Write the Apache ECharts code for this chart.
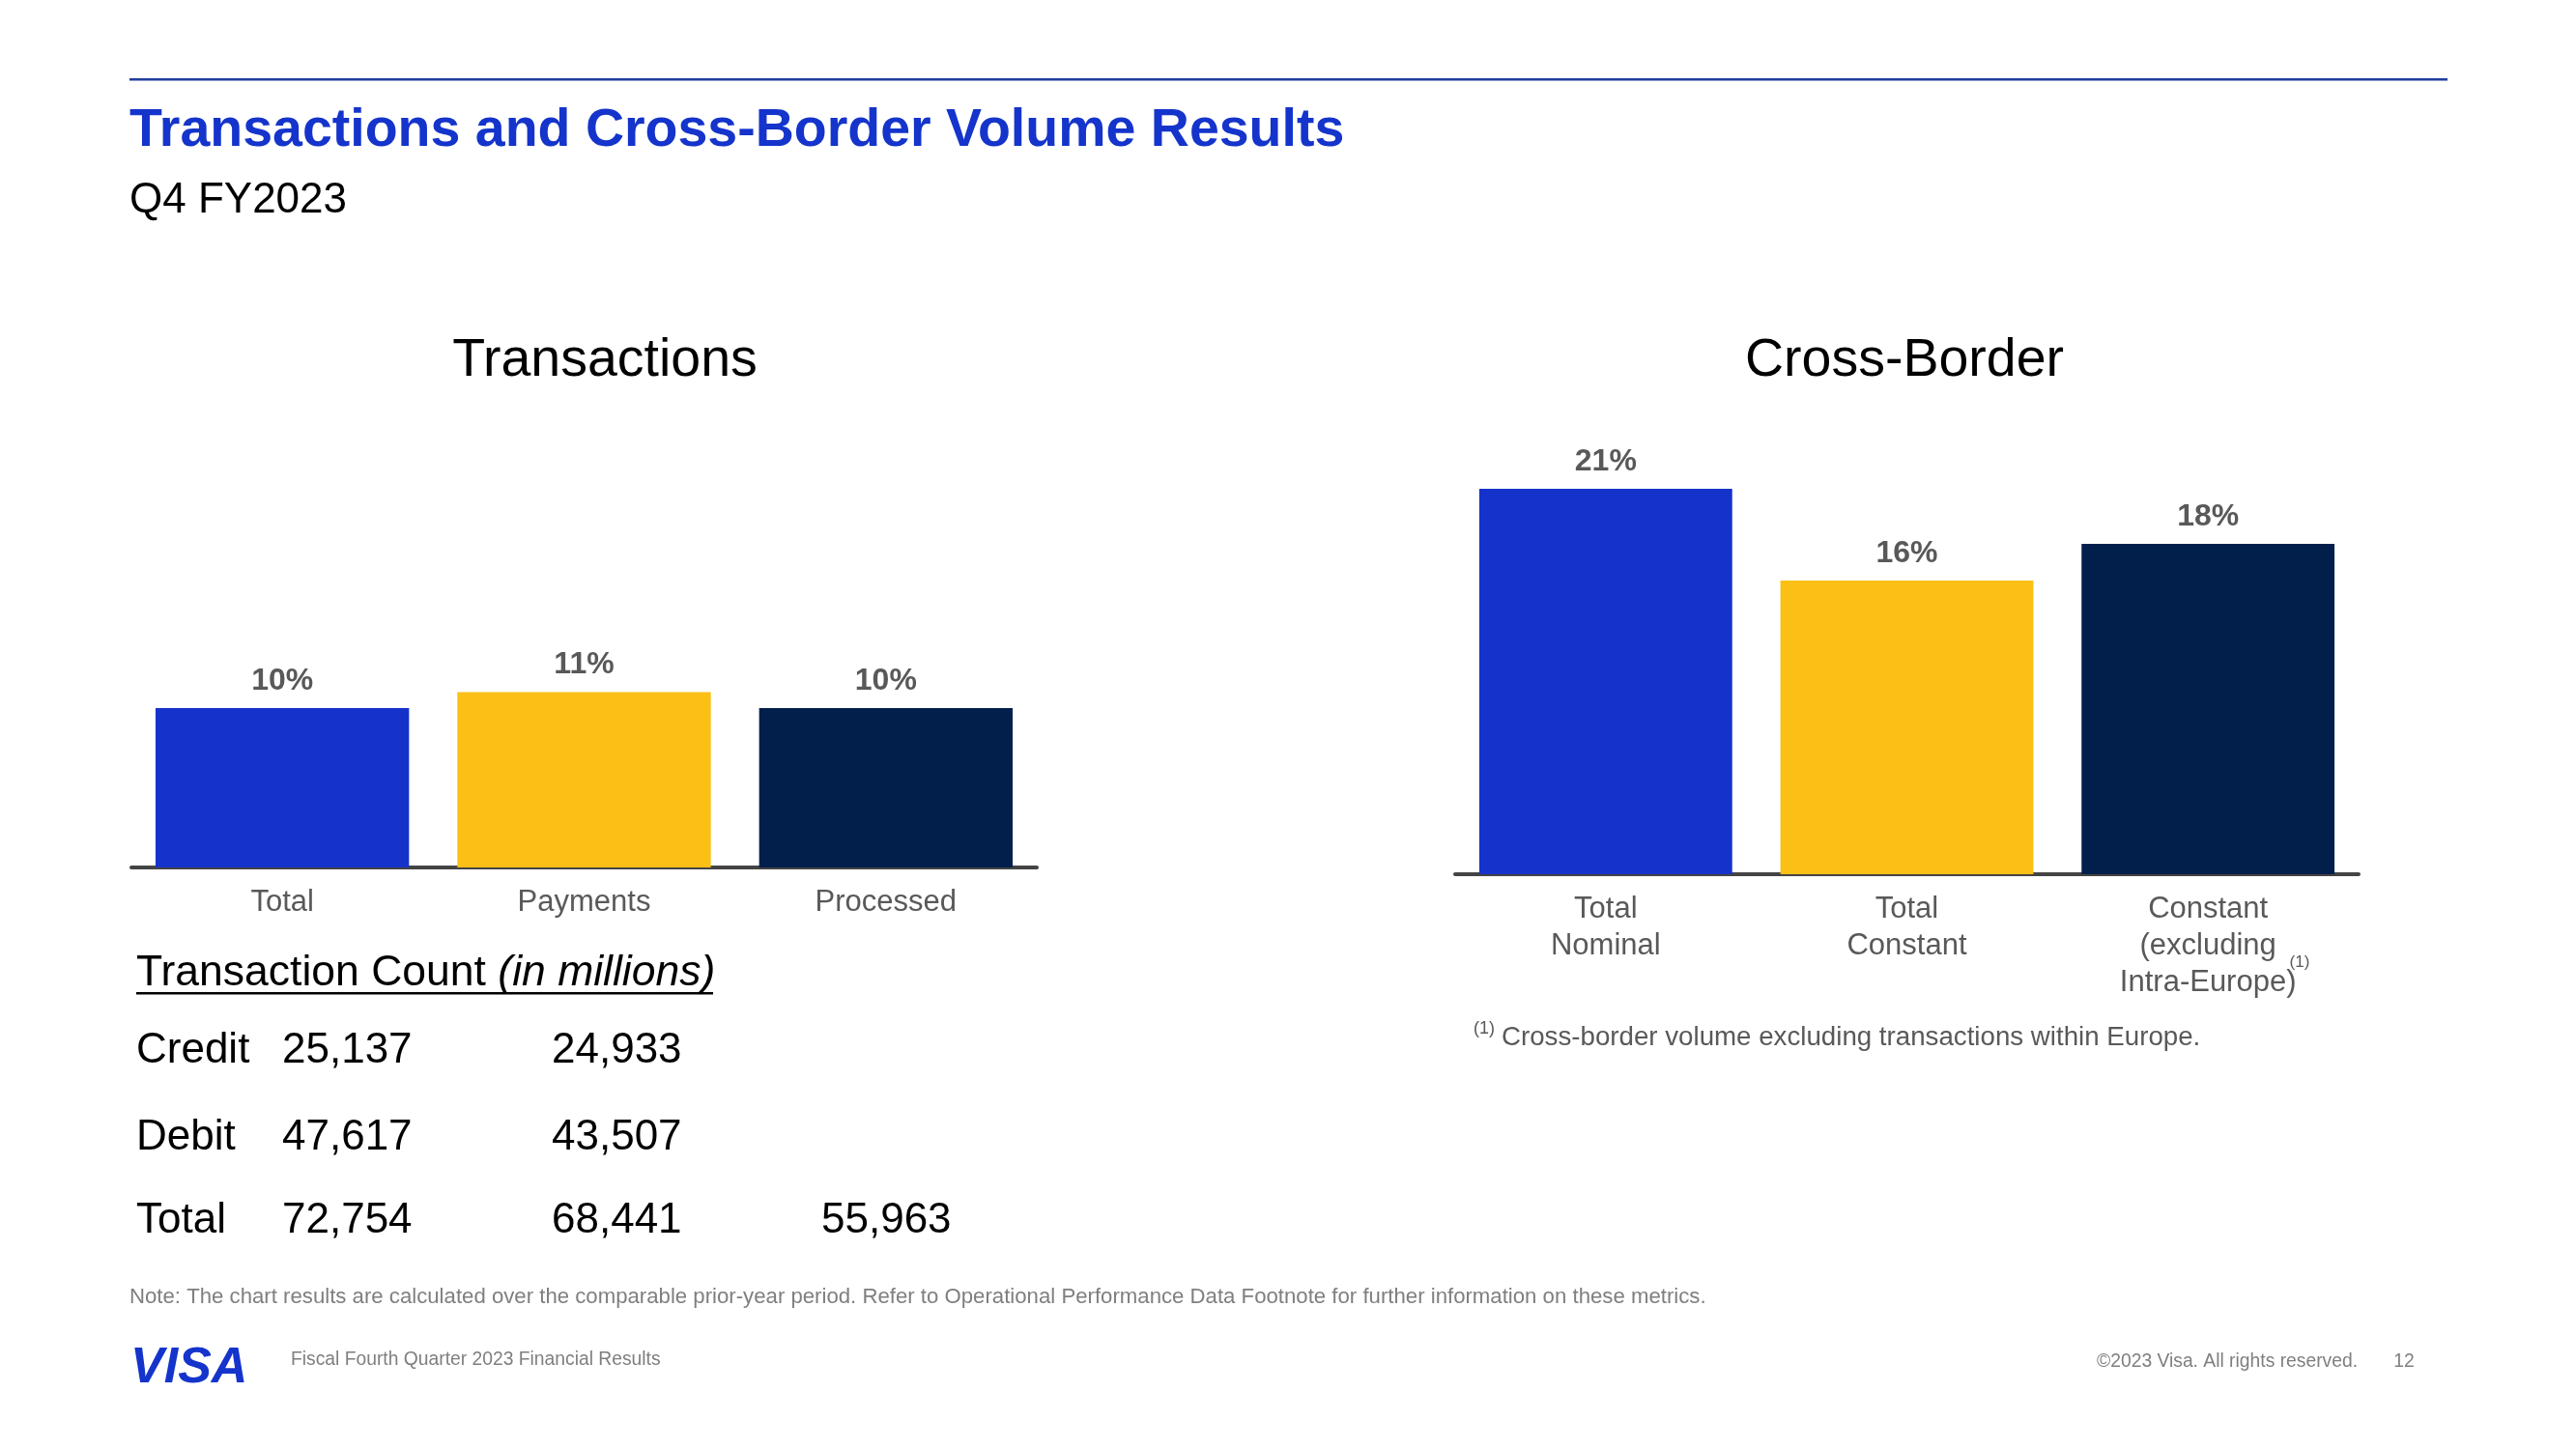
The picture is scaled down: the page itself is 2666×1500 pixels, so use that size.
<!DOCTYPE html>
<html>
<head>
<meta charset="utf-8">
<script src="https://cdn.jsdelivr.net/npm/echarts@6/dist/echarts.min.js"></script>
<style>
html,body{margin:0;padding:0;background:#fff;}
#chart{width:2666px;height:1500px;}
</style>
</head>
<body>
<div id="chart"></div>
<script>
// ---------- data ----------
var txCategories = ['Total', 'Payments', 'Processed'];
var txValues = [10, 11, 10];
var cbCategories = ['Total\nNominal', 'Total\nConstant', 'Constant\n(excluding\nIntra-Europe)'];
var cbValues = [21, 16, 18];
var barColors = ['#1533CB', '#FBBF15', '#021F4C'];
var tableRows = ['Credit', 'Debit', 'Total'];
var creditCounts = [25137, 24933, null];
var debitCounts = [47617, 43507, null];
var totalCounts = [72754, 68441, 55963];

// ---------- style constants ----------
var FONT = '"Liberation Sans", Arial, Helvetica, sans-serif';
var GRAY = '#595959';

function coloredData(vals) {
  return vals.map(function (v, i) { return { value: v, itemStyle: { color: barColors[i] } }; });
}
function fmt(n) { return n == null ? '' : n.toLocaleString('en-US'); }

var chart = echarts.init(document.getElementById('chart'), null, { renderer: 'canvas' });

var countsByRow = [creditCounts, debitCounts, totalCounts];
var rowY = [1088, 1178, 1264];
var colX = [292, 571, 850];
var graphics = [
  { type: 'rect', shape: { x: 134, y: 81, width: 2399, height: 2.5 }, style: { fill: '#233D9E' } },
  { type: 'text', x: 134, y: 136, style: { text: 'Transactions and Cross-Border Volume Results', font: 'bold 55.5px ' + FONT, fill: '#1434CB', verticalAlign: 'middle' } },
  { type: 'text', x: 134, y: 208, style: { text: 'Q4 FY2023', font: '44px ' + FONT, fill: '#000', verticalAlign: 'middle' } },
  { type: 'text', x: 626, y: 374, style: { text: 'Transactions', font: '55.5px ' + FONT, fill: '#000', align: 'center', verticalAlign: 'middle' } },
  { type: 'text', x: 1971, y: 374, style: { text: 'Cross-Border', font: '55.5px ' + FONT, fill: '#000', align: 'center', verticalAlign: 'middle' } },
  { type: 'text', x: 141, y: 1008, style: {
      text: '{a|Transaction Count }{b|(in millions)}', verticalAlign: 'middle',
      rich: { a: { fontSize: 44.5, fontFamily: FONT, color: '#000' }, b: { fontSize: 44.5, fontFamily: FONT, fontStyle: 'italic', color: '#000' } } } },
  { type: 'rect', shape: { x: 141, y: 1027, width: 597, height: 2.5 }, style: { fill: '#000' } },
  // superscript marker on the third cross-border category label
  { type: 'text', x: 2380, y: 996, style: { text: '(1)', font: '17px ' + FONT, fill: GRAY, align: 'center', verticalAlign: 'middle' } },
  { type: 'text', x: 1525, y: 1065, style: { text: '(1)', font: '18px ' + FONT, fill: GRAY, verticalAlign: 'middle' } },
  { type: 'text', x: 1554, y: 1074, style: { text: 'Cross-border volume excluding transactions within Europe.', font: '27.7px ' + FONT, fill: GRAY, verticalAlign: 'middle' } },
  { type: 'text', x: 134, y: 1343, style: { text: 'Note: The chart results are calculated over the comparable prior-year period. Refer to Operational Performance Data Footnote for further information on these metrics.', font: '22.2px ' + FONT, fill: '#7F7F7F', verticalAlign: 'middle' } },
  { type: 'text', x: 135, y: 1417, style: { text: 'VISA', font: 'italic 900 52px ' + FONT, fill: '#1434CB', verticalAlign: 'middle' } },
  { type: 'text', x: 301, y: 1408, style: { text: 'Fiscal Fourth Quarter 2023 Financial Results', font: '19.3px ' + FONT, fill: '#7F7F7F', verticalAlign: 'middle' } },
  { type: 'text', x: 2440, y: 1410, style: { text: '\u00A92023 Visa. All rights reserved.', font: '19.3px ' + FONT, fill: '#7F7F7F', align: 'right', verticalAlign: 'middle' } },
  { type: 'text', x: 2488, y: 1410, style: { text: '12', font: '19.3px ' + FONT, fill: '#7F7F7F', align: 'center', verticalAlign: 'middle' } }
];
tableRows.forEach(function (r, i) {
  graphics.push({ type: 'text', x: 141, y: rowY[i], style: { text: r, font: '44px ' + FONT, fill: '#000', verticalAlign: 'middle' } });
  countsByRow[i].forEach(function (v, j) {
    if (v == null) return;
    graphics.push({ type: 'text', x: colX[j], y: rowY[i], style: { text: fmt(v), font: '44px ' + FONT, fill: '#000', verticalAlign: 'middle' } });
  });
});

var option = {
  animation: false,
  backgroundColor: '#fff',
  textStyle: { fontFamily: FONT },
  grid: [
    { left: 136, right: 2666 - 1073, top: 403, bottom: 602, containLabel: false },
    { left: 1506, right: 2666 - 2441, top: 335, bottom: 595, containLabel: false }
  ],
  xAxis: [
    { type: 'category', gridIndex: 0, data: txCategories,
      axisTick: { show: false },
      axisLine: { lineStyle: { color: '#444', width: 4 } },
      axisLabel: { interval: 0, color: GRAY, fontSize: 31, lineHeight: 38, margin: 17, fontFamily: FONT } },
    { type: 'category', gridIndex: 1, data: cbCategories,
      axisTick: { show: false },
      axisLine: { lineStyle: { color: '#444', width: 4 } },
      axisLabel: { interval: 0, color: GRAY, fontSize: 31, lineHeight: 38, margin: 17, fontFamily: FONT } }
  ],
  yAxis: [
    { type: 'value', gridIndex: 0, min: 0, max: 30, show: false, splitLine: { show: false } },
    { type: 'value', gridIndex: 1, min: 0, max: 30, show: false, splitLine: { show: false } }
  ],
  series: [
    { type: 'bar', xAxisIndex: 0, yAxisIndex: 0, data: coloredData(txValues), barCategoryGap: '16%',
      label: { show: true, position: 'top', distance: 12, formatter: '{c}%', fontSize: 32, fontWeight: 'bold', color: GRAY, fontFamily: FONT } },
    { type: 'bar', xAxisIndex: 1, yAxisIndex: 1, data: coloredData(cbValues), barCategoryGap: '16%',
      label: { show: true, position: 'top', distance: 12, formatter: '{c}%', fontSize: 32, fontWeight: 'bold', color: GRAY, fontFamily: FONT } }
  ],
  graphic: graphics
};
chart.setOption(option);
</script>
</body>
</html>
